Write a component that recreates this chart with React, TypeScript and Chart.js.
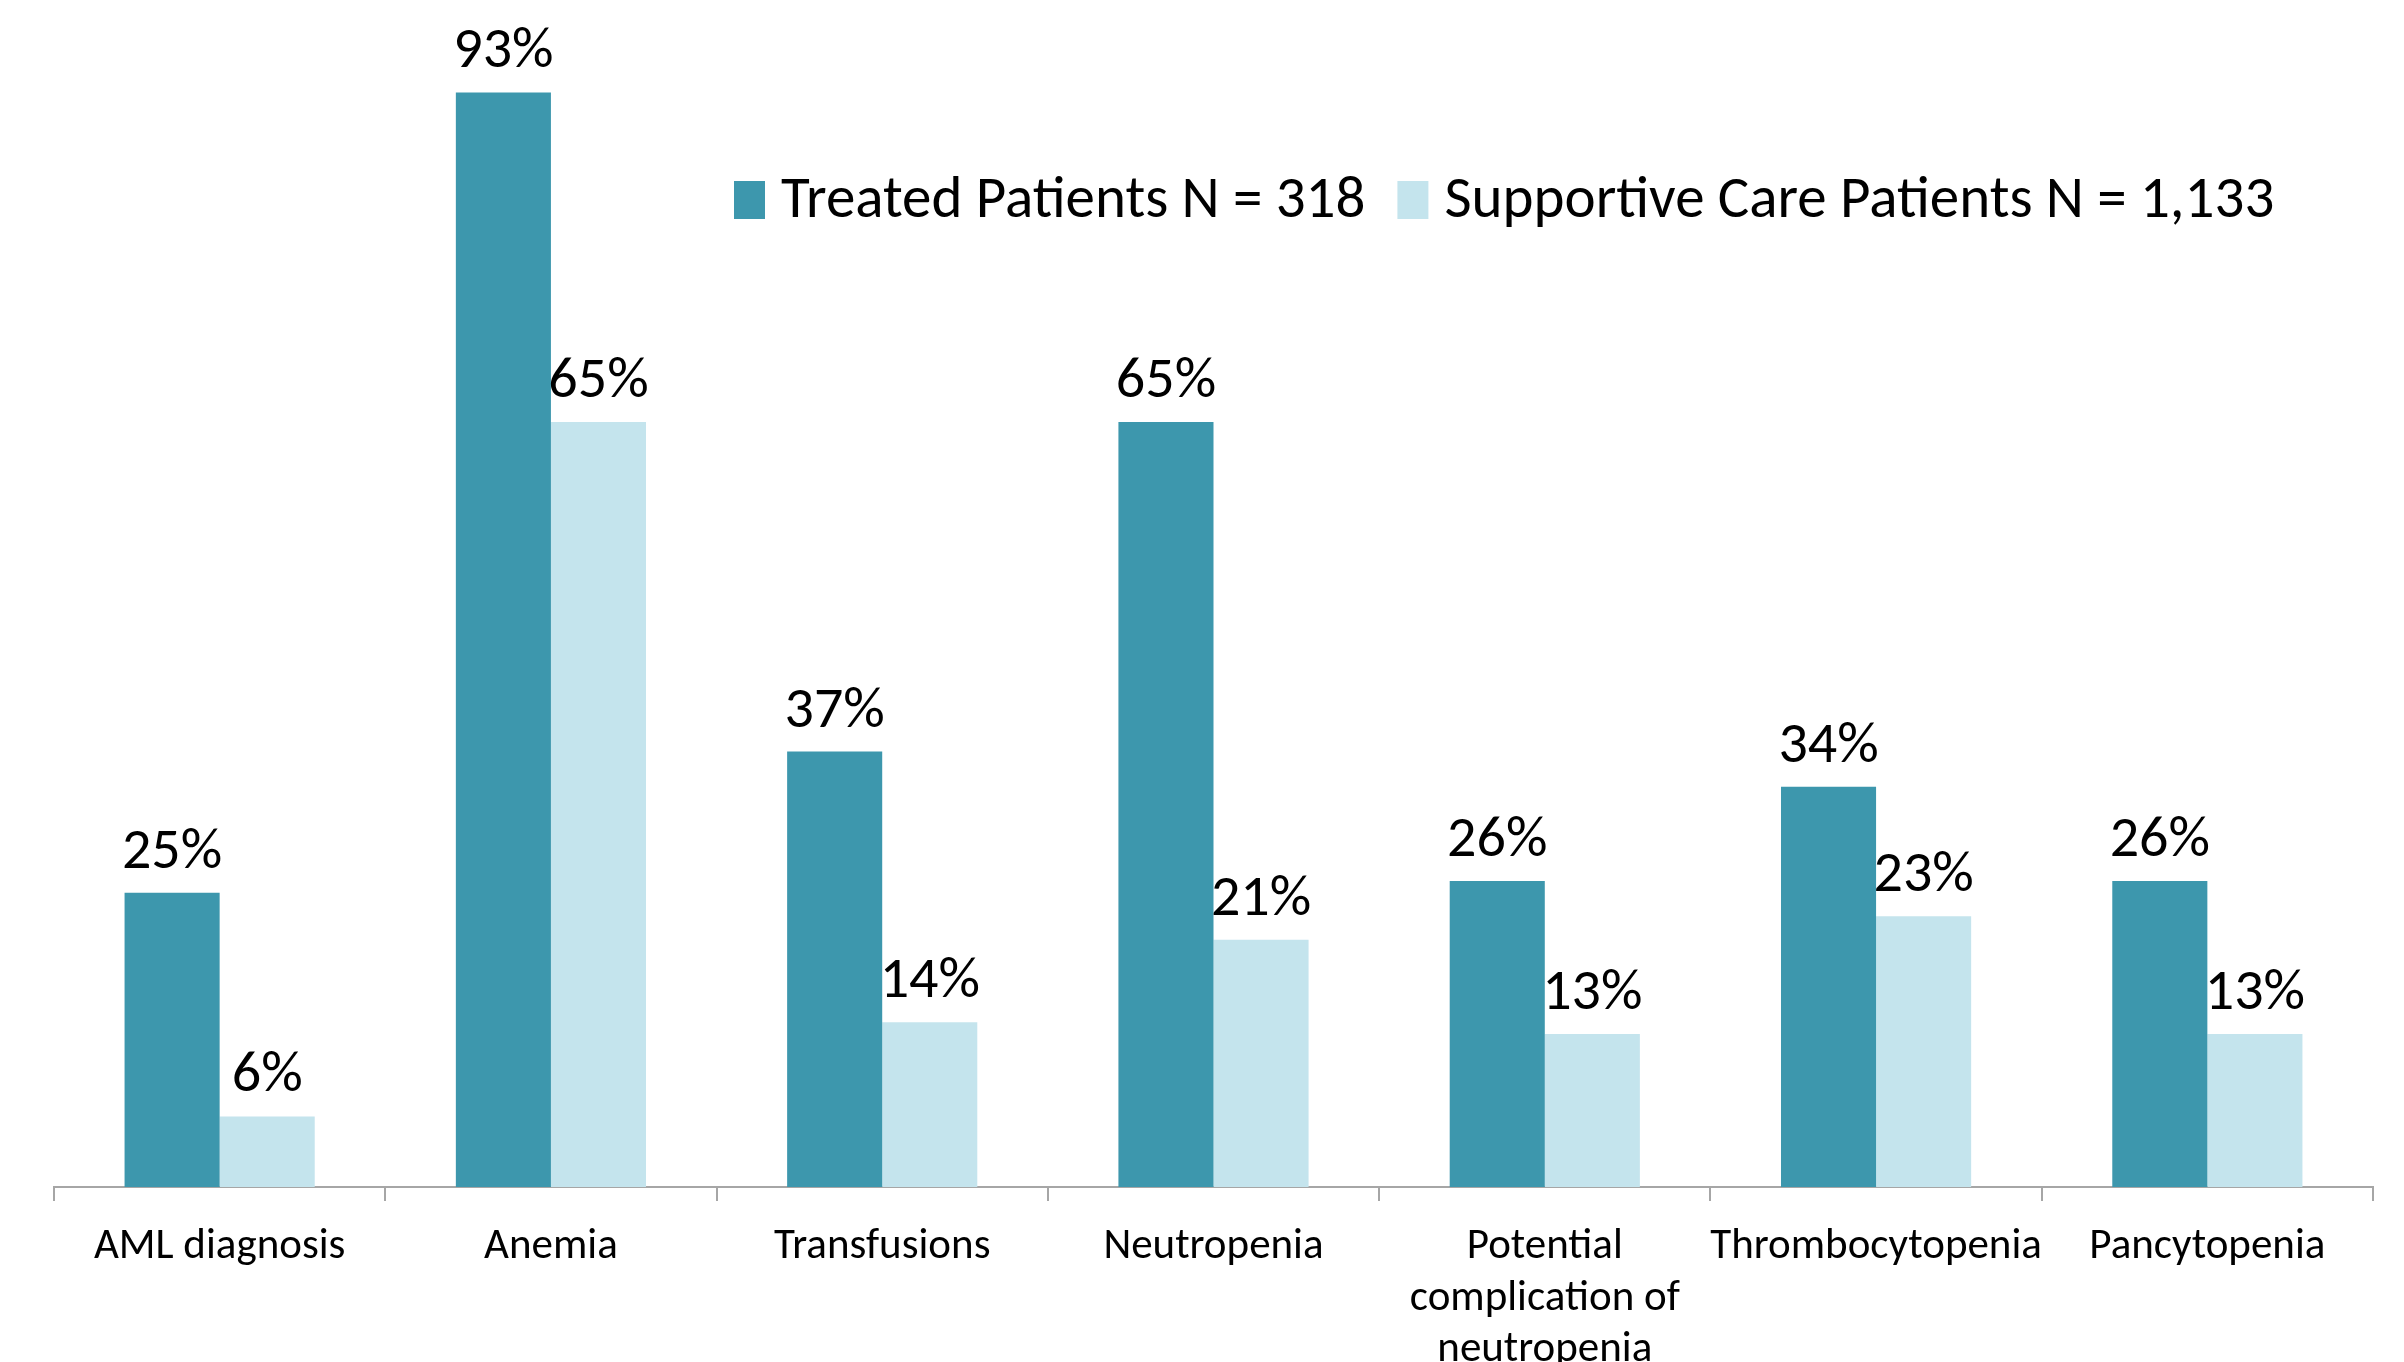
import React, { useEffect, useRef } from "react";
import { Chart, registerables } from "chart.js";

Chart.register(...registerables);

const categories: (string | string[])[] = [
  "AML diagnosis",
  "Anemia",
  "Transfusions",
  "Neutropenia",
  ["Potential", "complication of", "neutropenia"],
  "Thrombocytopenia",
  "Pancytopenia",
];
const treatedValues = [25, 93, 37, 65, 26, 34, 26];
const supportiveValues = [6, 65, 14, 21, 13, 23, 13];
const seriesNames = ["Treated Patients N = 318", "Supportive Care Patients N = 1,133"];
const seriesColors = ["#3D97AD", "#C4E4ED"];

const FONT = "Carlito, Lato, 'Open Sans', sans-serif";

const dataLabelPlugin = {
  id: "dataLabels",
  afterDatasetsDraw(chart: any) {
    const ctx = chart.ctx;
    ctx.save();
    ctx.font = `58px ${FONT}`;
    ctx.fillStyle = "#000";
    ctx.textAlign = "center";
    ctx.textBaseline = "alphabetic";
    chart.data.datasets.forEach((ds: any, di: number) => {
      const meta = chart.getDatasetMeta(di);
      meta.data.forEach((bar: any, i: number) => {
        ctx.fillText(`${ds.data[i]}%`, bar.x, bar.y - 25);
      });
    });
    ctx.restore();
  },
};

const legendPlugin = {
  id: "customLegend",
  afterDraw(chart: any) {
    const ctx = chart.ctx;
    ctx.save();
    ctx.font = `59px ${FONT}`;
    ctx.textBaseline = "middle";
    ctx.textAlign = "left";
    let x = 734;
    const cy = 200;
    chart.data.datasets.forEach((ds: any) => {
      ctx.fillStyle = ds.backgroundColor;
      ctx.fillRect(x, cy - 19, 31, 38);
      x += 31 + 16;
      ctx.fillStyle = "#000";
      ctx.fillText(ds.label, x, cy + 2);
      x += ctx.measureText(ds.label).width + 32;
    });
    ctx.restore();
  },
};

export default function App() {
  const ref = useRef<HTMLCanvasElement | null>(null);
  useEffect(() => {
    if (!ref.current) return;
    const chart = new Chart(ref.current, {
      type: "bar",
      data: {
        labels: categories,
        datasets: [
          { label: seriesNames[0], data: treatedValues, backgroundColor: seriesColors[0] },
          { label: seriesNames[1], data: supportiveValues, backgroundColor: seriesColors[1] },
        ],
      },
      options: {
        animation: false,
        responsive: false,
        maintainAspectRatio: false,
        layout: { padding: { top: 10, left: 54, right: 31, bottom: 0 } },
        datasets: { bar: { barPercentage: 1, categoryPercentage: 0.574 } },
        plugins: { legend: { display: false }, tooltip: { enabled: false } },
        scales: {
          y: { display: false, min: 0, max: 100 },
          x: {
            afterFit: (scale: any) => {
              scale.height = 175;
            },
            border: { display: true, color: "#A6A6A6", width: 2 },
            grid: {
              display: true,
              drawOnChartArea: false,
              drawTicks: true,
              tickLength: 14,
              color: "#A6A6A6",
              lineWidth: 2,
              offset: true,
            },
            ticks: {
              font: { family: FONT, size: 43, lineHeight: 1.19 },
              color: "#000",
              padding: 21,
              maxRotation: 0,
              autoSkip: false,
            },
          },
        },
      },
      plugins: [dataLabelPlugin, legendPlugin],
    });
    return () => chart.destroy();
  }, []);
  return (
    <div style={{ position: "fixed", left: 0, top: 0, width: 2404, height: 1362, overflow: "hidden", background: "#fff" }}>
      <canvas ref={ref} width={2404} height={1362} style={{ width: 2404, height: 1362, display: "block" }} />
    </div>
  );
}
